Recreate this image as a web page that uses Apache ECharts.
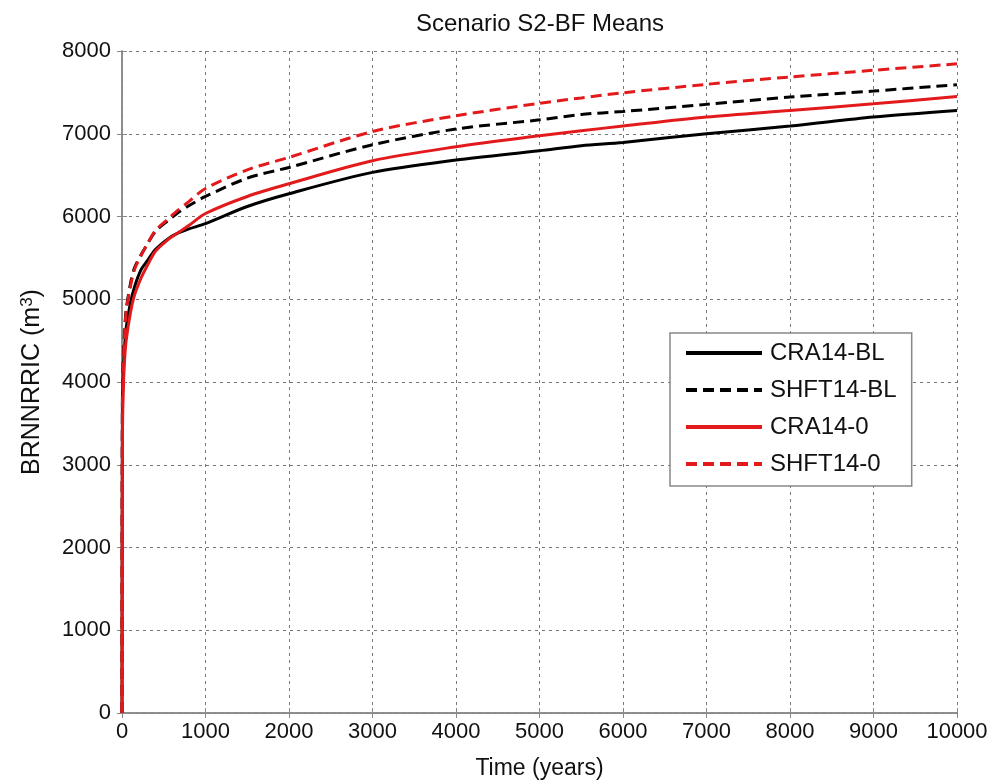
<!DOCTYPE html>
<html>
<head>
<meta charset="utf-8">
<script src="https://cdn.jsdelivr.net/npm/echarts@6/dist/echarts.min.js"></script>
<style>html,body{margin:0;padding:0;background:#fff}#c{width:995px;height:782px}</style>
</head>
<body>
<div id="c"></div>
<script>
const times = [0, 5, 15, 30, 50, 100, 150, 230, 300, 400, 550, 650, 800, 1000, 1500, 2000, 3000, 4000, 5000, 5500, 6000, 7000, 8000, 9000, 10000];
const cra14BL  = [0, 3700, 4100, 4400, 4650, 4950, 5150, 5360, 5460, 5600, 5730, 5790, 5850, 5915, 6121, 6275, 6533, 6682, 6795, 6855, 6895, 7000, 7093, 7202, 7282];
const shft14BL = [0, 3800, 4300, 4600, 4870, 5180, 5380, 5540, 5660, 5820, 5950, 6030, 6130, 6242, 6463, 6593, 6867, 7057, 7168, 7233, 7269, 7355, 7444, 7516, 7593];
const cra140   = [0, 3300, 3900, 4250, 4500, 4830, 5050, 5260, 5400, 5580, 5720, 5790, 5890, 6036, 6242, 6396, 6674, 6843, 6976, 7036, 7093, 7202, 7282, 7362, 7451];
const shft140  = [0, 3600, 4200, 4550, 4850, 5150, 5360, 5530, 5660, 5830, 5970, 6060, 6180, 6338, 6564, 6714, 7027, 7217, 7368, 7433, 7495, 7597, 7686, 7767, 7845];
const seriesNames = ['CRA14-BL', 'SHFT14-BL', 'CRA14-0', 'SHFT14-0'];
const xTicks = [0, 10000, 1000];
const yTicks = [0, 8000, 1000];

const pair = arr => times.map((t, i) => [t, arr[i]]);
const font = 'Liberation Sans, Arial, sans-serif';
const gridLine = {show: true, lineStyle: {color: '#777', type: [3, 4], width: 1}};
const boxLine = {show: true, lineStyle: {color: '#888', width: 1.5}};
const tickIn = {show: true, inside: true, length: 5, lineStyle: {color: '#888'}};
const plain = v => String(v);

const chart = echarts.init(document.getElementById('c'));
chart.setOption({
  animation: false,
  backgroundColor: '#fff',
  title: {
    text: 'Scenario S2-BF Means', left: 535, top: 7, textAlign: 'center',
    textStyle: {fontFamily: font, fontSize: 24, fontWeight: 'normal', color: '#111'}
  },
  grid: {left: 122, right: 38, top: 51, bottom: 69, outerBoundsMode: 'none', containLabel: false},
  legend: {
    orient: 'vertical', left: 670, top: 333,
    data: seriesNames,
    itemWidth: 76, itemHeight: 24, itemGap: 13,
    padding: [8, 15, 10, 14],
    backgroundColor: '#fff', borderColor: '#888', borderWidth: 1.5,
    itemStyle: {opacity: 0},
    lineStyle: {width: 4},
    textStyle: {fontFamily: font, fontSize: 24, color: '#111', padding: [0, 0, 0, 3]}
  },
  xAxis: [{
    type: 'value', min: xTicks[0], max: xTicks[1], interval: xTicks[2],
    name: 'Time (years)', nameLocation: 'middle', nameGap: 44,
    nameTextStyle: {fontFamily: font, fontSize: 23, color: '#111'},
    axisLine: boxLine, axisTick: tickIn, splitLine: gridLine,
    axisLabel: {fontFamily: font, fontSize: 22, color: '#111', margin: 8, formatter: plain}
  }, {
    type: 'value', position: 'top', min: xTicks[0], max: xTicks[1], interval: xTicks[2],
    axisLine: boxLine, axisTick: tickIn, splitLine: {show: false}, axisLabel: {show: false}
  }],
  yAxis: [{
    type: 'value', min: yTicks[0], max: yTicks[1], interval: yTicks[2],
    name: 'BRNNRRIC (m{sup|3})', nameLocation: 'middle', nameGap: 76,
    nameTextStyle: {fontFamily: font, fontSize: 25, color: '#111',
      rich: {sup: {fontFamily: font, fontSize: 17, color: '#111', verticalAlign: 'top', padding: [0, 0, 10, 0]}}},
    axisLine: boxLine, axisTick: tickIn, splitLine: gridLine,
    axisLabel: {fontFamily: font, fontSize: 22, color: '#111', margin: 11, formatter: plain}
  }, {
    type: 'value', position: 'right', min: yTicks[0], max: yTicks[1], interval: yTicks[2],
    axisLine: boxLine, axisTick: tickIn, splitLine: {show: false}, axisLabel: {show: false}
  }],
  series: [
    {name: seriesNames[0], type: 'line', data: pair(cra14BL), symbol: 'none', smooth: 0.3,
     lineStyle: {color: '#000', width: 3}, itemStyle: {color: '#000'}},
    {name: seriesNames[1], type: 'line', data: pair(shft14BL), symbol: 'none', smooth: 0.3,
     lineStyle: {color: '#000', width: 3, type: [11, 6]}, itemStyle: {color: '#000'}},
    {name: seriesNames[2], type: 'line', data: pair(cra140), symbol: 'none', smooth: 0.3,
     lineStyle: {color: '#e31a1c', width: 3}, itemStyle: {color: '#e31a1c'}},
    {name: seriesNames[3], type: 'line', data: pair(shft140), symbol: 'none', smooth: 0.3,
     lineStyle: {color: '#e31a1c', width: 3, type: [11, 6]}, itemStyle: {color: '#e31a1c'}}
  ]
});
</script>
</body>
</html>
